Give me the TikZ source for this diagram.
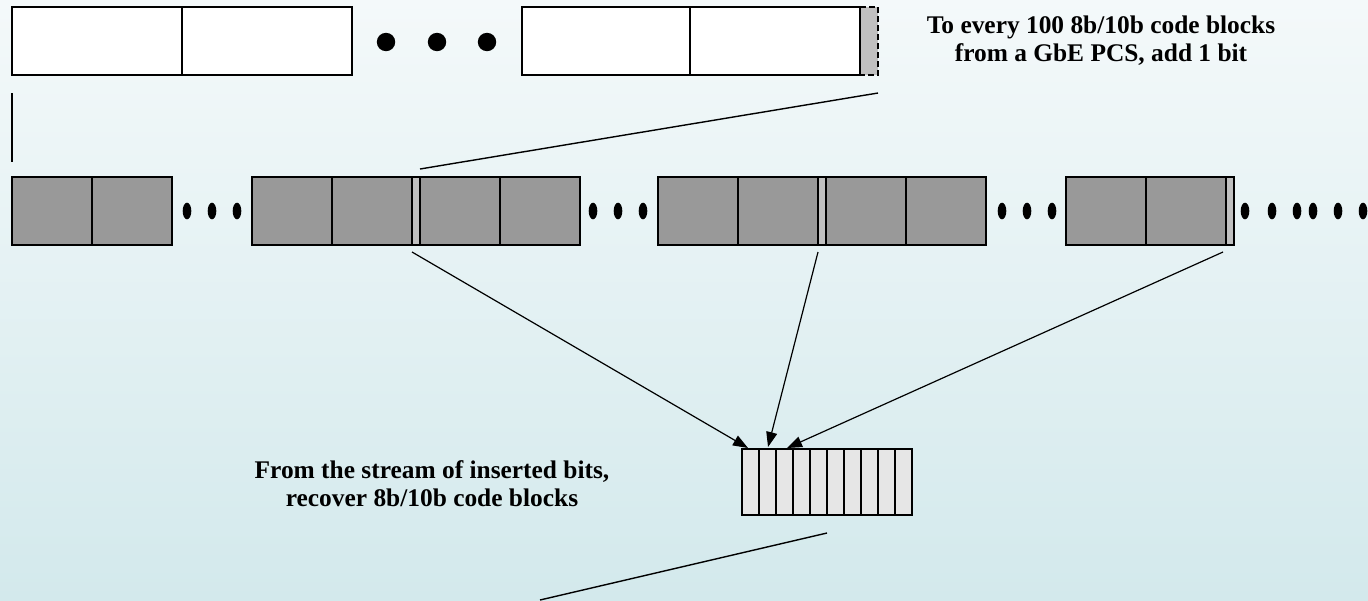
\documentclass[tikz,border=0pt]{standalone}
\usepackage{fontspec}
\setmainfont{Liberation Serif}
\usetikzlibrary{arrows.meta}
\definecolor{bgtop}{HTML}{F4F9FA}
\definecolor{bgbot}{HTML}{D3E9EC}
\definecolor{blockgray}{HTML}{999999}
\definecolor{bitgray}{HTML}{C0C0C0}
\definecolor{reggray}{HTML}{E6E6E6}
\begin{document}
\begin{tikzpicture}[x=0.5pt,y=-0.5pt,
  outline/.style={draw=black,line width=1pt},
  plainbox/.style={outline,fill=white},
  codebox/.style={outline,fill=blockgray},
  bitbox/.style={fill=bitgray},
  regbox/.style={outline,fill=reggray},
  dashedbit/.style={draw=black,line width=0.8pt,dash pattern=on 3pt off 1.5pt},
  guide/.style={draw=black,line width=0.7pt},
  feed/.style={draw=black,line width=0.6pt,-{Triangle[length=7.5pt,width=5.5pt]}},
  lbl/.style={align=center,inner sep=0pt,font=\bfseries\fontsize{12.7}{14.1}\selectfont}]

% background
\shade[top color=bgtop,bottom color=bgbot] (0,0) rectangle (1368,600);
\useasboundingbox (0,0) rectangle (1368,600);

% ---- GbE PCS code blocks ----
\draw[plainbox] (12,7) rectangle (352,75);
\draw[outline] (182,7) -- (182,75);
\foreach \x in {386,437,487} \fill (\x,42) circle (9.2);
\fill[bitbox] (860,7) rectangle (878,75);
\draw[dashedbit] (860,7) -- (878,7) -- (878,75) -- (860,75);
\draw[plainbox] (522,7) rectangle (860,75);
\draw[outline] (690,7) -- (690,75);

\node[lbl] (addnote) at (1101,40.5) {To every 100 8b/10b code blocks\\from a GbE PCS, add 1 bit};

\draw[guide] (12,93) -- (12,162);

% ---- stream with inserted bits ----
\draw[codebox] (12,177) rectangle (172,245);
\draw[outline] (92,177) -- (92,245);

\fill[blockgray] (252,177) rectangle (580,245);
\fill[bitbox] (412,177) rectangle (420,245);
\draw[outline] (252,177) rectangle (580,245);
\foreach \x in {332,412,420,500} \draw[outline] (\x,177) -- (\x,245);

\fill[blockgray] (658,177) rectangle (986,245);
\fill[bitbox] (818,177) rectangle (826,245);
\draw[outline] (658,177) rectangle (986,245);
\foreach \x in {738,818,826,906} \draw[outline] (\x,177) -- (\x,245);

\fill[blockgray] (1066,177) rectangle (1234,245);
\fill[bitbox] (1226,177) rectangle (1234,245);
\draw[outline] (1066,177) rectangle (1234,245);
\foreach \x in {1146,1226} \draw[outline] (\x,177) -- (\x,245);

\foreach \x in {187,212,237,593,618,643,1002,1027,1052,1245,1272,1297,1313,1338,1363}
  \fill (\x,211) ellipse (4.3 and 8.3);

% ---- recovered bit register ----
\draw[regbox] (742,449) rectangle (912,515);
\foreach \i in {1,...,9} \draw[outline] (742+17*\i,449) -- (742+17*\i,515);

\node[lbl] (recnote) at (432,484) {From the stream of inserted bits,\\recover 8b/10b code blocks};

% connector end points
\coordinate (srcbit) at (878,93);
\coordinate (bitB) at (420,169);
\coordinate (outB) at (412,252);
\coordinate (outC) at (818,252);
\coordinate (outD) at (1223,252);
\coordinate (inA) at (748,448);
\coordinate (inB) at (768,447);
\coordinate (inC) at (787,448);
\coordinate (regout) at (827,533);
\coordinate (nextstage) at (540,600);

\draw[guide] (srcbit) -- (bitB);
\draw[feed] (outB) -- (inA);
\draw[feed] (outC) -- (inB);
\draw[feed] (outD) -- (inC);
\draw[guide] (regout) -- (nextstage);
\end{tikzpicture}
\end{document}
